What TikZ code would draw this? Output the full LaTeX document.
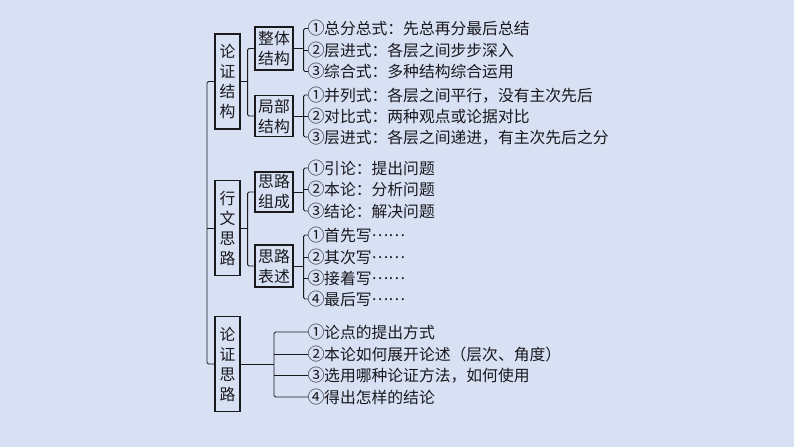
\documentclass[tikz,border=0pt]{standalone}
\usepackage{fontspec}
\newfontfamily\cjk{Noto Sans CJK SC}
\usepackage{tikz}
\usetikzlibrary{positioning,calc}
\definecolor{hintergrund}{RGB}{216,224,244}
\definecolor{strich}{RGB}{25,25,30}
\newcommand{\schrift}{\cjk\fontsize{15.8}{20}\selectfont}
\newcommand{\kreis}[1]{\makebox[16pt]{\fontsize{17}{20}\selectfont #1}}
\newcommand{\punkte}{\raisebox{0.32em}{……}}
\tikzset{
  grossbox/.style={draw=strich,line width=1.2pt,inner sep=0pt,minimum width=25pt,minimum height=95pt,align=center,text=strich,font=\schrift},
  kleinbox/.style={draw=strich,line width=1.2pt,inner sep=0pt,minimum width=38pt,minimum height=41pt,align=center,text=strich,font=\schrift},
  punkt/.style={anchor=west,inner sep=0pt,text=strich,font=\schrift},
  ast/.style={draw=strich,line width=0.9pt,rounded corners=1.5pt},
}
\begin{document}
\begin{tikzpicture}[x=1pt,y=-1pt]
\pgfmathsetmacro{\spalte}{308}
\pgfmathsetmacro{\mitte}{227.5}
\fill[hintergrund] (0,0) rectangle (794,447);
% erste Ebene
\node[grossbox] (ljg) at (\mitte,81.5) {论\\证\\结\\构};
\node[grossbox] (xwsl) at (\mitte,228) {行\\文\\思\\路};
\node[grossbox] (lzsl) at (\mitte,364) {论\\证\\思\\路};
% zweite Ebene
\node[kleinbox,minimum height=43pt] (ztjg) at (274,48.5) {整体\\结构};
\node[kleinbox] (jbjg) at (274,116) {局部\\结构};
\node[kleinbox,minimum height=40pt] (slzc) at (274,192) {思路\\组成};
\node[kleinbox,minimum height=42pt] (slbs) at (274,266) {思路\\表述};
% Punkte
\node[punkt] (zt1) at (\spalte,28.5) {\kreis{①}总分总式：先总再分最后总结};
\node[punkt] (zt2) at (\spalte,50) {\kreis{②}层进式：各层之间步步深入};
\node[punkt] (zt3) at (\spalte,71.5) {\kreis{③}综合式：多种结构综合运用};
\node[punkt] (jb1) at (\spalte,95) {\kreis{①}并列式：各层之间平行，没有主次先后};
\node[punkt] (jb2) at (\spalte,116) {\kreis{②}对比式：两种观点或论据对比};
\node[punkt] (jb3) at (\spalte,137) {\kreis{③}层进式：各层之间递进，有主次先后之分};
\node[punkt] (zc1) at (\spalte,168) {\kreis{①}引论：提出问题};
\node[punkt] (zc2) at (\spalte,189.5) {\kreis{②}本论：分析问题};
\node[punkt] (zc3) at (\spalte,211) {\kreis{③}结论：解决问题};
\node[punkt] (bs1) at (\spalte,235) {\kreis{①}首先写\punkte};
\node[punkt] (bs2) at (\spalte,257) {\kreis{②}其次写\punkte};
\node[punkt] (bs3) at (\spalte,278) {\kreis{③}接着写\punkte};
\node[punkt] (bs4) at (\spalte,299) {\kreis{④}最后写\punkte};
\node[punkt] (ls1) at (\spalte,332) {\kreis{①}论点的提出方式};
\node[punkt] (ls2) at (\spalte,354) {\kreis{②}本论如何展开论述（层次、角度）};
\node[punkt] (ls3) at (\spalte,375) {\kreis{③}选用哪种论证方法，如何使用};
\node[punkt] (ls4) at (\spalte,397) {\kreis{④}得出怎样的结论};
% Stamm
\coordinate (stamm) at (207,228);
\draw[ast] (ljg.west) -| (stamm) |- (lzsl.west);
\draw[ast] (xwsl.west) -- (xwsl.west -| stamm);
% Aeste
\coordinate (k1) at ($(ljg.east)+(7,0)$);
\draw[ast] (ljg.east) -- (k1);
\draw[ast] (ztjg.west) -| (k1) |- (jbjg.west);
\coordinate (k2) at ($(xwsl.east)+(7,0)$);
\draw[ast] (xwsl.east) -- (k2);
\draw[ast] (slzc.west) -| (k2) |- (slbs.west);
% Klammern
\coordinate (k3) at ($(ztjg.east)+(10,0)$);
\draw[ast] (ztjg.east) -- (k3);
\draw[ast] (zt1.west) -| (k3) |- (zt3.west);
\draw[ast] (zt2.west) -- (zt2.west -| k3);
\coordinate (k4) at ($(jbjg.east)+(10,0)$);
\draw[ast] (jbjg.east) -- (k4);
\draw[ast] (jb1.west) -| (k4) |- (jb3.west);
\draw[ast] (jb2.west) -- (jb2.west -| k4);
\coordinate (k5) at ($(slzc.east)+(10,0)$);
\draw[ast] (slzc.east) -- (k5);
\draw[ast] (zc1.west) -| (k5) |- (zc3.west);
\draw[ast] (zc2.west) -- (zc2.west -| k5);
\coordinate (k6) at ($(slbs.east)+(10,0)$);
\draw[ast] (slbs.east) -- (k6);
\draw[ast] (bs1.west) -| (k6) |- (bs4.west);
\draw[ast] (bs2.west) -- (bs2.west -| k6);
\draw[ast] (bs3.west) -- (bs3.west -| k6);
\coordinate (k7) at (274,364);
\draw[ast] (lzsl.east) -- (k7);
\draw[ast] (ls1.west) -| (k7) |- (ls4.west);
\draw[ast] (ls2.west) -- (ls2.west -| k7);
\draw[ast] (ls3.west) -- (ls3.west -| k7);
\end{tikzpicture}
\end{document}
